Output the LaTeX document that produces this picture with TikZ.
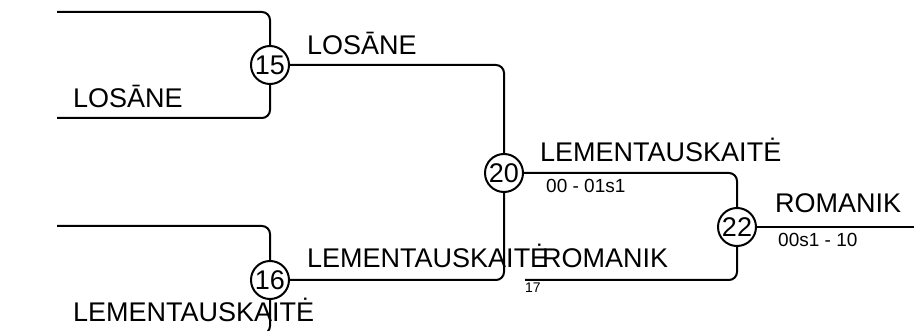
\documentclass[tikz,border=0pt]{standalone}
\usepackage{fontspec}
\setmainfont{Liberation Sans}
\usetikzlibrary{positioning, calc}

\begin{document}
\begin{tikzpicture}[x=1pt, y=-1pt,
      match/.style={circle, draw, line width=2pt, minimum size=38pt, inner sep=0pt, font=\fontsize{27}{30}\selectfont},
      wire/.style={line width=2pt, rounded corners=8pt},
      team/.style={anchor=base west, inner sep=0pt, font=\fontsize{27}{30}\selectfont},
      score/.style={anchor=base west, inner sep=0pt, font=\fontsize{19}{22}\selectfont},
      gameno/.style={anchor=base west, inner sep=0pt, font=\fontsize{14}{16}\selectfont}]

      \useasboundingbox (0,0) rectangle (914,331);
      \clip (0,0) rectangle (914,331);

      % Matches
      \node[match] (m15) at (270,65) {15};
      \node[match] (m16) at (270,280) {16};
      \node[match] (m20) at (504,173) {20};
      \node[match] (m22) at (737,227) {22};

      % Free ends
      \coordinate (in15a) at (57,12);
      \coordinate (in15b) at (57,118);
      \coordinate (in16a) at (57,226);
      \coordinate (in16b) at (57,334);
      \coordinate (in17) at (525,280);
      \coordinate (out22) at (914,227);

      % Wires
      \draw[wire] (in15a) -| (m15);
      \draw[wire] (in15b) -| (m15);
      \draw[wire] (in16a) -| (m16);
      \draw[wire] (in16b) -| (m16);
      \draw[wire] (m15) -| (m20);
      \draw[wire] (m16) -| (m20);
      \draw[wire] (m20) -| (m22);
      \draw[wire] (in17) -| (m22);
      \draw[wire] (m22) -- (out22);

      % Team names
      \node[team] (t15b) at (73,108) {LOSĀNE};
      \node[team] (t16b) at (73,322) {LEMENTAUSKAITĖ};
      \node[team] (t15) at (307,55) {LOSĀNE};
      \node[team] (t16) at (307,268) {LEMENTAUSKAITĖ};
      \node[team] (t17) at (542,268) {ROMANIK};
      \node[team] (t20) at (540,162) {LEMENTAUSKAITĖ};
      \node[team] (t22) at (775,213) {ROMANIK};

      % Scores
      \node[score] (s20) at (546,193) {00 - 01s1};
      \node[score] (s22) at (778,247) {00s1 - 10};
      \node[gameno] (g17) at (525,293) {17};
    \end{tikzpicture}
\end{document}
